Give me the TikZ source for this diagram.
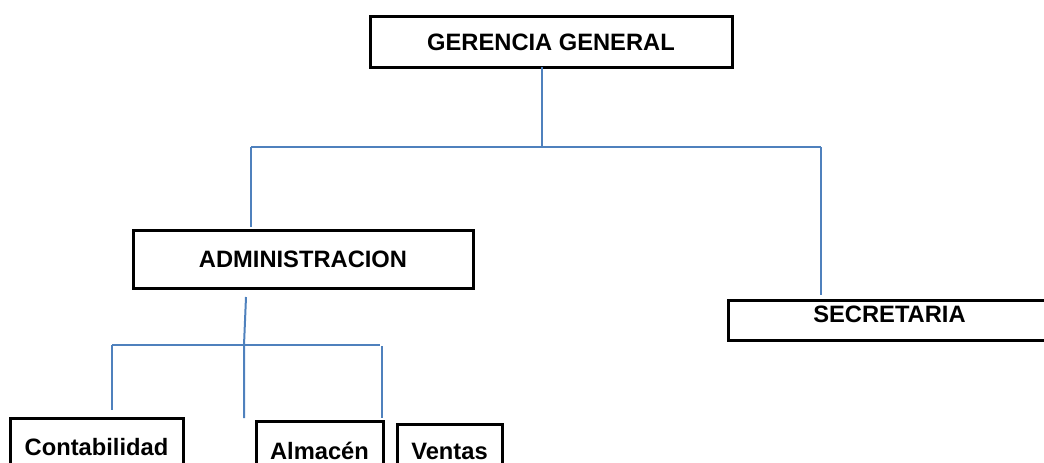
\documentclass[tikz,border=0pt]{standalone}
\usepackage{fontspec}
\setmainfont{Liberation Sans}
\usepackage[HTML]{xcolor}
\usepackage{tikz}
\usetikzlibrary{positioning, calc}
\definecolor{azul}{HTML}{4F81BD}

\begin{document}
\begin{tikzpicture}[x=0.5pt, y=-0.5pt,
  caja/.style={draw, line width=1.5pt, rectangle, anchor=north west, inner sep=0pt, outer sep=0pt,
    text height=8.6pt, text depth=0pt, font=\bfseries\fontsize{11.85}{14}\selectfont},
  linea/.style={draw=azul, line width=1pt}]
\useasboundingbox (0,0) rectangle (1044,462);
\clip (0,0) rectangle (1044,462);
\node[caja, minimum width=181pt, minimum height=25.5pt] (gerencia) at (370,16) {GERENCIA GENERAL};
\node[caja, minimum width=170pt, minimum height=29pt] (admin) at (133,230) {ADMINISTRACION};
\node[caja, minimum width=161.5pt, minimum height=20pt, text depth=6pt] (secretaria) at (728,300) {SECRETARIA};
\node[caja, minimum width=86.5pt, minimum height=28.5pt] (conta) at (10,418) {Contabilidad};
\node[caja, minimum width=63.5pt, minimum height=29.5pt] (almacen) at (256,421) {Almacén};
\node[caja, minimum width=52.5pt, minimum height=27pt] (ventas) at (397,424) {Ventas};
\coordinate (g1) at (542,147);
\coordinate (b1) at (251,147);
\coordinate (b2) at (821,147);
\coordinate (a1) at (246,297);
\coordinate (a2) at (244,345);
\coordinate (a3) at (244,418);
\coordinate (c1) at (112,345);
\coordinate (c2) at (380,345);
\coordinate (c3) at (382,346);
% primer nivel
\draw[linea] (g1 |- gerencia.south) -- (g1);
\draw[linea] (b1) -- (b2);
\draw[linea, shorten >=1.5pt] (b1) -- (b1 |- admin.north);
\draw[linea, shorten >=2.5pt] (b2) -- (b2 |- secretaria.north);
% segundo nivel
\draw[linea] (a1) -- (a2) -- (a3);
\draw[linea] (c1) -- (c2);
\draw[linea, shorten >=4pt] (c1) -- (c1 |- conta.north);
\draw[linea, shorten >=1.5pt] (c3) -- (c3 |- almacen.north);
\end{tikzpicture}
\end{document}
